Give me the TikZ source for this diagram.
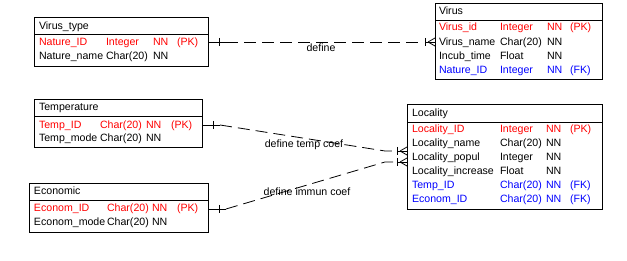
\documentclass[tikz,border=0pt]{standalone}
\usepackage{fontspec}
\setmainfont{Liberation Sans}
\usepackage{tikz}
\usetikzlibrary{positioning}

\definecolor{pkred}{RGB}{255,0,0}
\definecolor{fkblue}{RGB}{0,0,255}

\tikzset{
	pics/one/.style={code={
		\draw (0,0) -- (18,0);
		\draw (11,-4) -- (11,4);}},
	pics/many/.style={code={
		\draw (-10,0) -- (0,0);
		\draw (-10,-4) -- (-10,4);
		\draw (-7,0) -- (0,-4) (-7,0) -- (0,4);}}
}

\begin{document}
\begin{tikzpicture}[x=1pt, y=-1pt, line width=0.8pt,
		every node/.style={inner sep=0pt, outer sep=0pt, font=\fontsize{10.6}{12}\selectfont},
		tbl/.style={draw, anchor=north west},
		cell/.style={anchor=mid west, yshift=-1.2pt},
		pk/.style={cell, text=pkred},
		fk/.style={cell, text=fkblue},
		rel/.style={dash pattern=on 12pt off 6pt}]
	\useasboundingbox (0,0) rectangle (627,261);

	% tables: header box + body box
	\node[tbl, minimum width=174pt, minimum height=17pt] (VTh) at (34,17) {};
	\node[tbl, minimum width=174pt, minimum height=32pt, below=0pt of VTh] (VTb) {};
	\node[tbl, minimum width=167pt, minimum height=17pt] (Vh) at (435,3) {};
	\node[tbl, minimum width=167pt, minimum height=59pt, below=0pt of Vh] (Vb) {};
	\node[tbl, minimum width=168pt, minimum height=17pt] (Th) at (34,99) {};
	\node[tbl, minimum width=168pt, minimum height=31pt, below=0pt of Th] (Tb) {};
	\node[tbl, minimum width=179pt, minimum height=17pt] (Eh) at (29,183) {};
	\node[tbl, minimum width=179pt, minimum height=32pt, below=0pt of Eh] (Eb) {};
	\node[tbl, minimum width=195pt, minimum height=18pt] (Lh) at (407,104) {};
	\node[tbl, minimum width=195pt, minimum height=87pt, below=0pt of Lh] (Lb) {};

	% Virus_type
	\node[cell] (VTt) at (39,26) {Virus\_type};
	\node[pk] (VT1) at (39,42) {Nature\_ID};
	\node[pk] (VT1t) at (106,42) {Integer};
	\node[pk] (VT1n) at (153,42) {NN};
	\node[pk] (VT1k) at (177,42) {(PK)};
	\node[cell] (VT2) at (39,56) {Nature\_name};
	\node[cell] (VT2t) at (106,56) {Char(20)};
	\node[cell] (VT2n) at (153,56) {NN};

	% Virus
	\node[cell] (Vt) at (439,11) {Virus};
	\node[pk] (V1) at (439,27) {Virus\_id};
	\node[pk] (V1t) at (500,27) {Integer};
	\node[pk] (V1n) at (547,27) {NN};
	\node[pk] (V1k) at (570,27) {(PK)};
	\node[cell] (V2) at (439,42) {Virus\_name};
	\node[cell] (V2t) at (500,42) {Char(20)};
	\node[cell] (V2n) at (547,42) {NN};
	\node[cell] (V3) at (439,56) {Incub\_time};
	\node[cell] (V3t) at (500,56) {Float};
	\node[cell] (V3n) at (547,56) {NN};
	\node[fk] (V4) at (439,70) {Nature\_ID};
	\node[fk] (V4t) at (500,70) {Integer};
	\node[fk] (V4n) at (547,70) {NN};
	\node[fk] (V4k) at (570,70) {(FK)};

	% Temperature
	\node[cell] (Tt) at (39,107) {Temperature};
	\node[pk] (T1) at (39,125) {Temp\_ID};
	\node[pk] (T1t) at (100,125) {Char(20)};
	\node[pk] (T1n) at (146,125) {NN};
	\node[pk] (T1k) at (171,125) {(PK)};
	\node[cell] (T2) at (39,138) {Temp\_mode};
	\node[cell] (T2t) at (100,138) {Char(20)};
	\node[cell] (T2n) at (146,138) {NN};

	% Economic
	\node[cell] (Et) at (34,191) {Economic};
	\node[pk] (E1) at (34,208) {Econom\_ID};
	\node[pk] (E1t) at (107,208) {Char(20)};
	\node[pk] (E1n) at (152,208) {NN};
	\node[pk] (E1k) at (177,208) {(PK)};
	\node[cell] (E2) at (34,222) {Econom\_mode};
	\node[cell] (E2t) at (107,222) {Char(20)};
	\node[cell] (E2n) at (152,222) {NN};

	% Locality
	\node[cell] (Lt) at (412,113) {Locality};
	\node[pk] (L1) at (412,129) {Locality\_ID};
	\node[pk] (L1t) at (500,129) {Integer};
	\node[pk] (L1n) at (546,129) {NN};
	\node[pk] (L1k) at (570,129) {(PK)};
	\node[cell] (L2) at (412,143) {Locality\_name};
	\node[cell] (L2t) at (500,143) {Char(20)};
	\node[cell] (L2n) at (546,143) {NN};
	\node[cell] (L3) at (412,157) {Locality\_popul};
	\node[cell] (L3t) at (500,157) {Integer};
	\node[cell] (L3n) at (546,157) {NN};
	\node[cell] (L4) at (412,171) {Locality\_increase};
	\node[cell] (L4t) at (500,171) {Float};
	\node[cell] (L4n) at (546,171) {NN};
	\node[fk] (L5) at (412,185) {Temp\_ID};
	\node[fk] (L5t) at (500,185) {Char(20)};
	\node[fk] (L5n) at (546,185) {NN};
	\node[fk] (L5k) at (570,185) {(FK)};
	\node[fk] (L6) at (412,199) {Econom\_ID};
	\node[fk] (L6t) at (500,199) {Char(20)};
	\node[fk] (L6n) at (546,199) {NN};
	\node[fk] (L6k) at (570,199) {(FK)};

	% relationship ends
	\coordinate (VTr) at (VTb.east |- 0,42);
	\coordinate (Vl) at (Vb.west |- 0,42);
	\coordinate (Tr) at (Tb.east |- 0,125);
	\coordinate (Er) at (Eb.east |- 0,209);
	\coordinate (LT) at (Lb.west |- 0,151);
	\coordinate (LE) at (Lb.west |- 0,162);
	\pic at (VTr) {one};
	\pic at (Tr) {one};
	\pic at (Er) {one};
	\pic at (Vl) {many};
	\pic at (LT) {many};
	\pic at (LE) {many};

	% relationships
	\draw[rel] ([xshift=18pt]VTr) -- ([xshift=-12pt]Vl);
	\draw[rel] ([xshift=18pt]Tr) -- ([xshift=-22pt]LT) -- ([xshift=-12pt]LT);
	\draw[rel] ([xshift=18pt]Er) -- ([xshift=-22pt]LE) -- ([xshift=-12pt]LE);
	\node (D1) at (321,48) {define};
	\node (D2) at (304,145) {define temp coef};
	\node (D3) at (307,192) {define immun coef};
\end{tikzpicture}
\end{document}
